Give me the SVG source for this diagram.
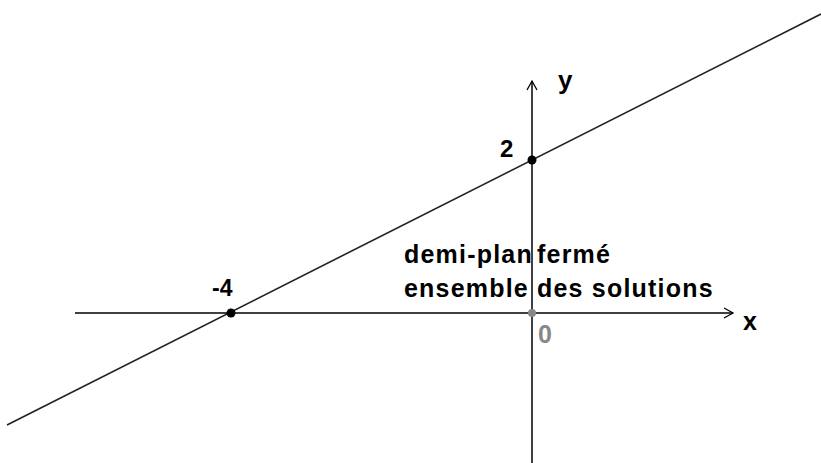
<svg xmlns="http://www.w3.org/2000/svg" width="821" height="463" viewBox="0 0 821 463">
<style>
.axis{stroke:#000;stroke-width:1.5;fill:none}
.line{stroke:#222;stroke-width:1.6;fill:none}
.arr{stroke:#000;stroke-width:1.3;fill:none}
.lbl{font-family:"Liberation Sans",Arial,sans-serif;font-weight:bold;fill:#000}
.txt{font-family:"Liberation Sans",Arial,sans-serif;font-weight:bold;font-size:25px;letter-spacing:1.2px;fill:#000}
</style>
<rect width="821" height="463" fill="#fff"/>
<g id="connectors">
<line class="axis" x1="75" y1="313" x2="733" y2="313"/>
<polyline class="arr" points="724,308 733,313 724,318"/>
<line class="axis" x1="532" y1="463" x2="532" y2="81"/>
<polyline class="arr" points="527,90 532,81 537,90"/>
<line class="line" x1="7" y1="425" x2="821" y2="14"/>
</g>
<g id="point-minus4"><circle cx="231" cy="313" r="4.5" fill="#000"/><text class="lbl" x="212" y="296" font-size="23">-4</text></g>
<g id="point-2"><circle cx="532" cy="160" r="4.5" fill="#000"/><text class="lbl" x="500" y="157" font-size="24">2</text></g>
<g id="origin"><circle cx="532" cy="313" r="4" fill="#888"/><text x="538" y="343" font-family="Liberation Sans,Arial,sans-serif" font-weight="bold" font-size="25" fill="#888">0</text></g>
<g id="label-y"><text class="lbl" x="558" y="89" font-size="26">y</text></g>
<g id="label-x"><text class="lbl" x="743" y="330" font-size="25">x</text></g>
<g id="region-label">
<text class="txt" y="263"><tspan x="404">demi-plan</tspan><tspan x="537">fermé</tspan></text>
<text class="txt" y="297"><tspan x="404">ensemble</tspan><tspan x="537">des solutions</tspan></text>
</g>
</svg>
